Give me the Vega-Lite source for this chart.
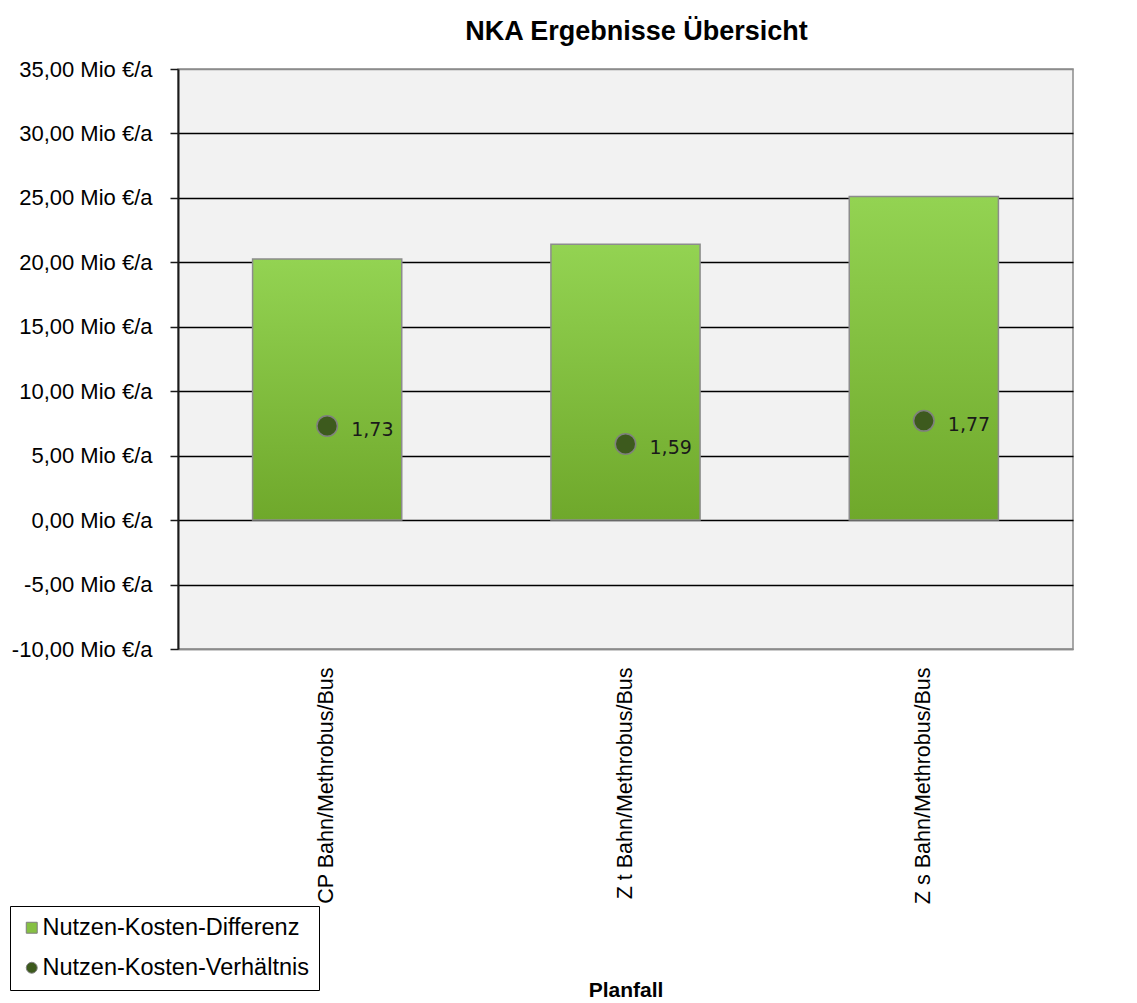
{
  "$schema": "https://vega.github.io/schema/vega-lite/v6.json",
  "autosize": "none",
  "width": 895,
  "height": 580,
  "padding": {"left": 178, "top": 69, "right": 64, "bottom": 354},
  "background": "#ffffff",
  "title": {
    "text": "NKA Ergebnisse Übersicht",
    "font": "Liberation Sans",
    "fontSize": 27,
    "fontWeight": "bold",
    "color": "#000000",
    "anchor": "middle",
    "dx": 11,
    "baseline": "alphabetic",
    "offset": -9
  },
  "config": {
    "locale": {
      "number": {
        "decimal": ",",
        "thousands": ".",
        "grouping": [3],
        "currency": ["", " €"],
        "minus": "-"
      }
    },
    "view": {"fill": "#f2f2f2", "stroke": "#8c8c8c", "strokeWidth": 1.5},
    "axis": {
      "labelFont": "Liberation Sans",
      "labelFontSize": 22,
      "labelColor": "#000000",
      "titleFont": "Liberation Sans",
      "titleColor": "#000000"
    }
  },
  "data": {
    "values": [
      {"planfall": "CP Bahn/Methrobus/Bus", "nkd": 20.25, "nkv": 1.73},
      {"planfall": "Z t Bahn/Methrobus/Bus", "nkd": 21.4, "nkv": 1.59},
      {"planfall": "Z s Bahn/Methrobus/Bus", "nkd": 25.1, "nkv": 1.77}
    ]
  },
  "encoding": {
    "x": {
      "field": "planfall",
      "type": "nominal",
      "sort": null,
      "scale": {"paddingInner": 0.5, "paddingOuter": 0.25},
      "axis": {
        "title": "Planfall",
        "titleFontSize": 21,
        "titleFontWeight": "bold",
        "titleBaseline": "alphabetic",
        "titlePadding": 147,
        "labelAngle": -90,
        "labelFontSize": 21.5,
        "labelPadding": 18,
        "labelLimit": 400,
        "ticks": false,
        "domainColor": "#8c8c8c",
        "domainWidth": 1.5
      }
    }
  },
  "layer": [
    {
      "mark": {
        "type": "bar",
        "fill": {
          "gradient": "linear",
          "x1": 0, "y1": 0, "x2": 0, "y2": 1,
          "stops": [
            {"offset": 0, "color": "#93d352"},
            {"offset": 1, "color": "#6fa82b"}
          ]
        },
        "stroke": "#8c8c8c",
        "strokeWidth": 1.5
      },
      "encoding": {
        "y": {
          "field": "nkd",
          "type": "quantitative",
          "scale": {"domain": [-10, 35], "nice": false, "zero": false},
          "axis": {
            "orient": "left",
            "title": null,
            "values": [-10, -5, 0, 5, 10, 15, 20, 25, 30, 35],
            "format": ".2f",
            "labelExpr": "datum.label + ' Mio €/a'",
            "grid": true,
            "gridColor": {
              "condition": {"test": "datum.value === 35 || datum.value === -10", "value": "#8c8c8c"},
              "value": "#000000"
            },
            "gridWidth": 1.3,
            "domainColor": "#1a1a1a",
            "domainWidth": 2,
            "tickColor": "#1a1a1a",
            "tickWidth": 1.5,
            "tickSize": 8,
            "labelPadding": 18
          }
        }
      }
    },
    {
      "layer": [
        {
          "mark": {
            "type": "point",
            "filled": true,
            "size": 420,
            "opacity": 1,
            "stroke": "#7f7f7f",
            "strokeWidth": 1.5
          },
          "encoding": {
            "y": {
              "field": "nkv",
              "type": "quantitative",
              "scale": {"domain": [0, 4.5], "nice": false},
              "axis": {
                "orient": "right",
                "title": null,
                "values": [0, 0.5, 1, 1.5, 2, 2.5, 3, 3.5, 4, 4.5],
                "format": ".2f",
                "grid": false,
                "domainColor": "#8c8c8c",
                "domainWidth": 1.5,
                "tickColor": "#8c8c8c",
                "tickWidth": 1.5,
                "tickSize": 8,
                "labelPadding": 9
              }
            },
            "color": {
              "datum": "Nutzen-Kosten-Verhältnis",
              "scale": {
                "domain": ["Nutzen-Kosten-Differenz", "Nutzen-Kosten-Verhältnis"],
                "range": ["#86c043", "#3d5a1d"]
              },
              "legend": {
                "orient": "none",
                "legendX": -168,
                "legendY": 837,
                "title": null,
                "strokeColor": "#000000",
                "fillColor": "#ffffff",
                "padding": 10,
                "labelFont": "Liberation Sans",
                "labelFontSize": 23.5,
                "labelColor": "#000000",
                "labelLimit": 400,
                "symbolSize": 120,
                "symbolStrokeColor": "#7f7f7f",
                "symbolStrokeWidth": 1,
                "rowPadding": 15,
                "labelOffset": -1
              }
            },
            "shape": {
              "datum": "Nutzen-Kosten-Verhältnis",
              "scale": {
                "domain": ["Nutzen-Kosten-Differenz", "Nutzen-Kosten-Verhältnis"],
                "range": ["square", "circle"]
              }
            }
          }
        },
        {
          "mark": {
            "type": "text",
            "align": "left",
            "baseline": "middle",
            "dx": 24,
            "dy": 4,
            "font": "DejaVu Sans",
            "fontSize": 19,
            "color": "#1a1a1a"
          },
          "encoding": {
            "y": {"field": "nkv", "type": "quantitative", "axis": null},
            "text": {"field": "nkv", "type": "quantitative", "format": ".2f"}
          }
        }
      ]
    }
  ],
  "resolve": {"scale": {"y": "independent"}}
}
